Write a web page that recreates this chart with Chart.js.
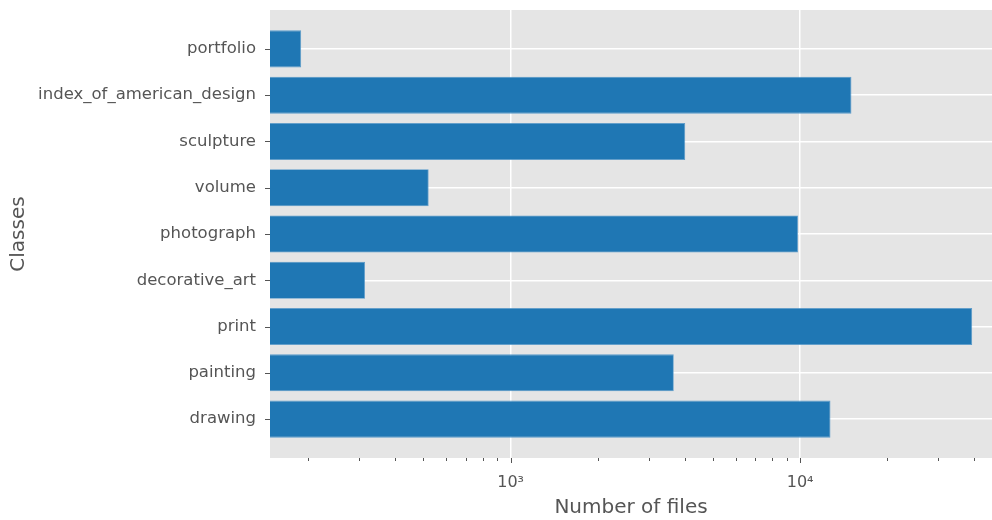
<!DOCTYPE html>
<html>
<head>
<meta charset="utf-8">
<script src="https://cdn.jsdelivr.net/npm/chart.js@4.4.1/dist/chart.umd.min.js"></script>
<style>
  html, body { margin: 0; padding: 0; background: #fff; }
  #wrap { width: 992px; height: 520px; }
</style>
</head>
<body>
<div id="wrap"><canvas id="filesChart"></canvas></div>
<script>
// classes listed bottom to top
const classes = ['drawing', 'painting', 'print', 'decorative_art', 'photograph', 'volume', 'sculpture', 'index_of_american_design', 'portfolio'];
const fileCounts = [12730, 3660, 39300, 314, 9830, 521, 4010, 15040, 189];

const majorTicks = [1000, 10000];
const majorLabels = ['10³', '10⁴'];
const minorTicks = [200, 300, 400, 500, 600, 700, 800, 900, 2000, 3000, 4000, 5000, 6000, 7000, 8000, 9000, 20000, 30000, 40000];

const textColor = '#555555';
const font = 'DejaVu Sans';

// grey panel behind the bars, plus matplotlib-style tick marks
const panel = {
  id: 'panel',
  beforeDraw(chart) {
    const { ctx, chartArea: a } = chart;
    ctx.save();
    ctx.fillStyle = '#E5E5E5';
    ctx.fillRect(a.left, a.top, a.right - a.left, a.bottom - a.top);
    ctx.restore();
  },
  afterDraw(chart) {
    const { ctx, chartArea: a, scales } = chart;
    ctx.save();
    ctx.strokeStyle = textColor;
    ctx.lineWidth = 1;
    ctx.beginPath();
    scales.x.ticks.forEach(t => {
      const px = Math.round(scales.x.getPixelForValue(t.value)) + 0.5;
      const len = majorTicks.includes(t.value) ? 5 : 3;
      ctx.moveTo(px, a.bottom);
      ctx.lineTo(px, a.bottom + len);
    });
    classes.forEach((c, i) => {
      const py = Math.round(scales.y.getPixelForValue(i)) + 0.5;
      ctx.moveTo(a.left - 5, py);
      ctx.lineTo(a.left, py);
    });
    ctx.stroke();
    ctx.restore();
  }
};

const ctx = document.getElementById('filesChart').getContext('2d');
new Chart(ctx, {
  type: 'bar',
  data: {
    datasets: [{
      data: fileCounts.map((v, i) => ({ x: v, y: i })),
      backgroundColor: '#1F77B4',
      borderColor: '#5a9bcb',
      borderWidth: 0.8,
      barPercentage: 0.8,
      categoryPercentage: 1.0
    }]
  },
  options: {
    indexAxis: 'y',
    responsive: true,
    maintainAspectRatio: false,
    animation: false,
    layout: { padding: { top: 10, right: 0, bottom: 0, left: 0 } },
    plugins: { legend: { display: false }, tooltip: { enabled: false } },
    scales: {
      x: {
        type: 'logarithmic',
        min: 147.5,
        max: 46000,
        afterBuildTicks: s => {
          s.ticks = [...minorTicks, ...majorTicks].sort((a, b) => a - b).map(v => ({ value: v }));
        },
        afterFit: s => { s.height = 62; },
        border: { display: false },
        grid: {
          color: c => (c.tick && majorTicks.includes(c.tick.value)) ? '#ffffff' : 'rgba(0,0,0,0)',
          lineWidth: 1.5,
          drawTicks: true,
          tickLength: 6,
          tickColor: 'rgba(0,0,0,0)'
        },
        ticks: {
          autoSkip: false,
          maxRotation: 0,
          padding: 9,
          color: textColor,
          font: { family: font, size: 16 },
          callback: v => {
            const k = majorTicks.indexOf(v);
            return k >= 0 ? majorLabels[k] : '';
          }
        },
        title: {
          display: true,
          text: 'Number of files',
          color: textColor,
          font: { family: font, size: 20 },
          padding: { top: 0, bottom: 0 }
        }
      },
      y: {
        type: 'linear',
        offset: false,
        min: -0.84,
        max: 8.84,
        afterBuildTicks: s => {
          s.ticks = classes.map((c, i) => ({ value: i }));
        },
        afterFit: s => {
          s.width = 270;
          s.paddingTop = 0;
          s.paddingBottom = 0;
        },
        border: { display: false },
        grid: {
          offset: false,
          color: '#ffffff',
          lineWidth: 1.5,
          drawTicks: true,
          tickLength: 8,
          tickColor: 'rgba(0,0,0,0)'
        },
        ticks: {
          autoSkip: false,
          padding: 6,
          color: textColor,
          font: { family: font, size: 16.5 },
          callback: v => classes[v]
        },
        title: {
          display: true,
          text: 'Classes',
          color: textColor,
          font: { family: font, size: 20 },
          padding: { top: 7, bottom: 4 }
        }
      }
    }
  },
  plugins: [panel]
});
</script>
</body>
</html>
